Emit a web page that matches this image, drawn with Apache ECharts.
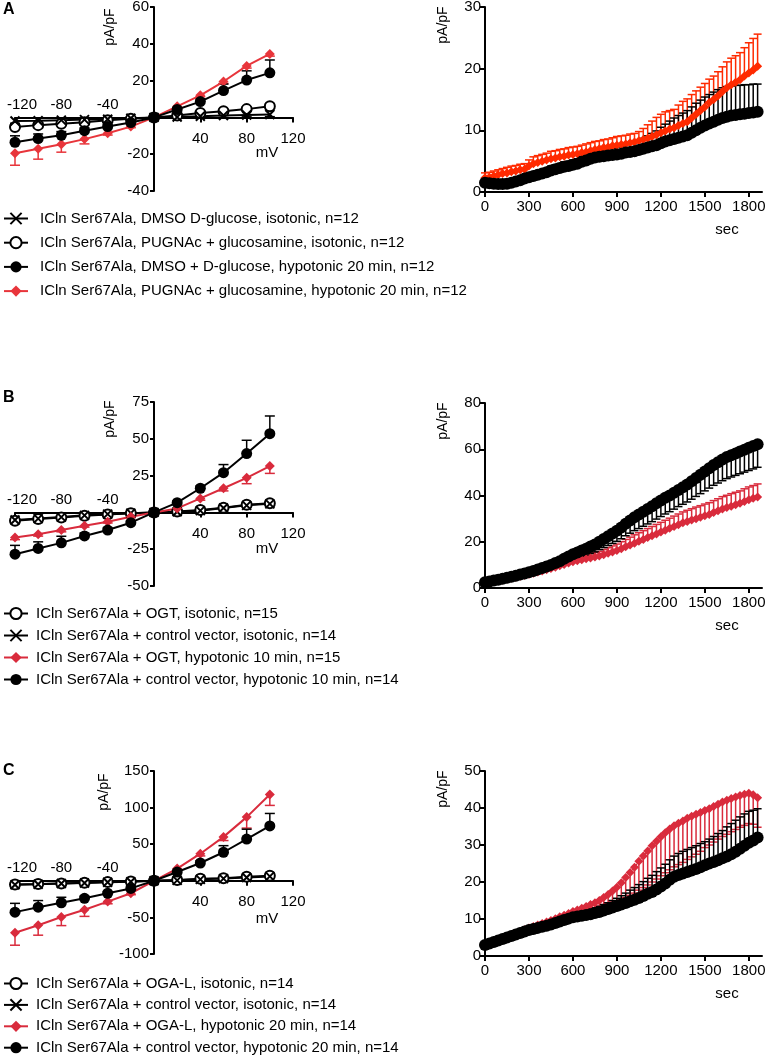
<!DOCTYPE html>
<html><head><meta charset="utf-8">
<script src="https://cdn.jsdelivr.net/npm/echarts@6/dist/echarts.min.js"></script>
<style>html,body{margin:0;padding:0;background:#fff}#c{width:770px;height:1055px}</style>
</head><body><div id="c"></div>
<script>
const FONT = "'Liberation Sans', Arial, Helvetica, sans-serif";

// ---------- shared axes / categories ----------
const voltages = [-120,-100,-80,-60,-40,-20,0,20,40,60,80,100];
const ivTickValues = [-120,-80,-40,40,80,120];
const ivLabelsNeg = [-120,-80,-40];
const ivLabelsPos = [40,80,120];
const timeTicks = [0,300,600,900,1200,1500,1800];
const seconds = [0,30,60,90,120,150,180,210,240,270,
  300,330,360,390,420,450,480,510,540,570,
  600,630,660,690,720,750,780,810,840,870,
  900,930,960,990,1020,1050,1080,1110,1140,1170,
  1200,1230,1260,1290,1320,1350,1380,1410,1440,1470,
  1500,1530,1560,1590,1620,1650,1680,1710,1740,1770,
  1800,1830,1860];

// ---------- Panel A (I-V) ----------
const aNames = [
  'ICln Ser67Ala, DMSO D-glucose, isotonic, n=12',
  'ICln Ser67Ala, PUGNAc + glucosamine, isotonic, n=12',
  'ICln Ser67Ala, DMSO + D-glucose, hypotonic 20 min, n=12',
  'ICln Ser67Ala, PUGNAc + glucosamine, hypotonic 20 min, n=12'
];
const aIsoDmso = [-2.0,-1.8,-1.5,-1.2,-1.0,-0.5,0,0.2,0.6,1.0,1.3,1.6];
const aIsoDmsoErr = [1.2,1.0,0.8,0.8,0.6,0.5,0.2,0.6,0.8,1.0,1.0,1.2];
const aIsoPug = [-5.2,-4.2,-3.5,-2.6,-1.6,-0.8,0,1.0,2.4,3.4,4.5,6.0];
const aIsoPugErr = [1.5,1.2,1.0,0.8,0.6,0.5,0.2,0.5,0.8,1.0,1.2,1.5];
const aHypoDmso = [-13.5,-11.5,-9.7,-7.2,-5.0,-2.8,0,4.3,8.6,14.6,20.3,24.2];
const aHypoDmsoErr = [3.5,2.5,2.0,1.5,1.0,0.6,0.3,1.0,1.5,3.5,5.0,7.0];
const aHypoPug = [-19.5,-17.0,-14.6,-11.8,-8.6,-5.0,0,6.0,12.0,19.5,28.0,34.5];
const aHypoPugErr = [6.5,5.7,4.3,2.6,1.0,0.6,0.3,0.5,0.8,1.0,1.2,1.2];

// ---------- Panel A (time course) ----------
const aTimeDmso = [1.5,1.4,1.35,1.3,1.3,1.35,1.5,1.7,1.9,2.2,
  2.4,2.6,2.8,3.0,3.2,3.5,3.7,3.9,4.1,4.2,
  4.4,4.6,4.9,5.1,5.4,5.6,5.7,5.8,5.9,6.0,
  6.1,6.2,6.4,6.5,6.6,6.8,7.0,7.2,7.4,7.6,
  7.9,8.2,8.4,8.6,8.8,9.0,9.2,9.6,10.0,10.4,
  10.8,11.1,11.4,11.7,12.0,12.2,12.4,12.5,12.6,12.7,
  12.8,12.9,13.0];
const aTimeDmsoErr = [0.4,0.4,0.4,0.4,0.4,0.4,0.5,0.5,0.5,0.5,
  0.5,0.6,0.6,0.6,0.6,0.7,0.7,0.7,0.8,0.8,
  0.8,0.8,0.9,0.9,0.9,1.0,1.0,1.0,1.1,1.1,
  1.2,1.2,1.3,1.4,1.5,1.6,1.7,1.9,2.1,2.3,
  2.6,2.8,3.1,3.4,3.6,3.8,4.0,4.2,4.4,4.5,
  4.6,4.7,4.8,4.9,4.9,4.9,4.8,4.8,4.7,4.7,
  4.6,4.6,4.5];
const aTimePug = [2.3,2.4,2.6,2.8,3.0,3.1,3.3,3.4,3.6,3.7,
  4.2,4.6,4.8,5.0,5.2,5.4,5.5,5.7,5.8,6.0,
  6.1,6.2,6.4,6.5,6.7,6.9,7.0,7.2,7.3,7.5,
  7.6,7.7,7.8,8.0,8.1,8.3,8.5,8.7,9.0,9.3,
  9.6,9.9,10.2,10.4,10.8,11.1,11.4,12.0,12.6,13.2,
  13.8,14.5,15.0,15.6,16.3,16.9,17.4,17.8,18.2,18.8,
  19.3,19.8,20.4];
const aTimePugErr = [0.8,0.8,0.8,0.8,0.8,0.9,0.9,0.9,0.9,0.9,
  1.0,1.1,1.1,1.1,1.1,1.2,1.2,1.2,1.2,1.2,
  1.2,1.2,1.2,1.3,1.3,1.3,1.3,1.3,1.3,1.3,
  1.4,1.4,1.4,1.4,1.4,1.5,1.8,2.2,2.5,2.8,
  3.0,3.1,3.0,3.0,3.3,3.6,3.7,3.8,3.8,3.8,
  3.8,3.8,3.8,3.9,4.0,4.2,4.3,4.3,4.4,4.6,
  4.9,5.1,5.2];

// ---------- Panel B (I-V) ----------
const bNames = [
  'ICln Ser67Ala + OGT, isotonic, n=15',
  'ICln Ser67Ala + control vector, isotonic, n=14',
  'ICln Ser67Ala + OGT, hypotonic 10 min, n=15',
  'ICln Ser67Ala + control vector, hypotonic 10 min, n=14'
];
const bIsoOgt = [-5.7,-4.5,-3.4,-2.2,-1.4,-0.6,0,0.6,1.6,3.2,5.2,6.2];
const bIsoOgtErr = [1.0,0.8,0.8,0.6,0.5,0.4,0.2,0.4,0.6,0.8,1.0,1.2];
const bIsoCtrl = [-5.2,-4.2,-3.2,-2.0,-1.2,-0.5,0,0.4,1.2,3.0,4.8,5.8];
const bIsoCtrlErr = [1.0,0.8,0.8,0.6,0.5,0.4,0.2,0.4,0.6,0.8,1.0,1.2];
const bHypoOgt = [-17.0,-14.8,-12.0,-9.0,-6.4,-3.0,0,2.7,9.5,16.4,23.5,31.5];
const bHypoOgtErr = [1.5,1.3,1.2,1.0,0.8,0.6,0.3,0.8,1.2,1.8,4.0,5.0];
const bHypoCtrl = [-28.4,-24.5,-20.7,-16.0,-12.0,-7.0,0,6.6,16.4,27.0,40.0,53.5];
const bHypoCtrlErr = [6.0,4.5,4.5,2.0,1.5,1.0,0.3,1.0,1.5,5.5,9.0,12.0];

// ---------- Panel B (time course) ----------
const bTimeCtrl = [2.5,2.8,3.2,3.6,4.0,4.4,4.9,5.3,5.8,6.3,
  6.8,7.4,8.0,8.6,9.3,10.0,10.8,11.6,12.6,13.6,
  14.6,15.4,16.2,17.0,17.9,18.8,20.0,21.2,22.4,23.6,
  24.8,26.2,27.8,29.2,30.6,31.8,33.0,34.2,35.4,36.6,
  37.8,39.0,40.0,41.2,42.4,43.6,44.8,46.2,47.6,49.0,
  50.4,51.8,53.2,54.4,55.6,56.6,57.4,58.2,59.0,59.8,
  60.6,61.4,62.2];
const bTimeCtrlErr = [0.5,0.5,0.6,0.6,0.7,0.7,0.8,0.8,0.9,0.9,
  1.0,1.1,1.2,1.3,1.4,1.5,1.6,1.7,1.8,2.0,
  2.2,2.4,2.6,2.8,3.0,3.2,3.4,3.7,4.0,4.3,
  4.6,4.9,5.2,5.5,5.8,6.1,6.3,6.5,6.7,6.8,
  6.9,7.0,7.0,7.1,7.2,7.4,7.6,7.8,8.0,8.2,
  8.4,8.6,8.8,9.0,9.2,9.3,9.4,9.5,9.6,9.7,
  9.8,9.9,10.0];
const bTimeOgt = [2.2,2.5,2.8,3.2,3.5,3.9,4.3,4.7,5.1,5.5,
  5.9,6.4,6.9,7.4,7.9,8.4,9.0,9.6,10.2,10.8,
  11.4,11.8,12.2,12.6,13.0,13.4,13.8,14.4,15.0,15.6,
  16.2,17.0,17.8,18.6,19.4,20.2,21.0,21.8,22.6,23.4,
  24.2,25.0,25.8,26.6,27.4,28.2,28.8,29.4,30.0,30.6,
  31.2,31.8,32.6,33.4,34.2,34.8,35.4,36.0,36.6,37.4,
  38.2,38.8,39.4];
const bTimeOgtErr = [0.4,0.4,0.5,0.5,0.5,0.6,0.6,0.6,0.7,0.7,
  0.8,0.8,0.9,0.9,1.0,1.0,1.1,1.2,1.2,1.3,
  1.4,1.5,1.6,1.7,1.8,1.9,2.0,2.2,2.4,2.6,
  2.8,3.0,3.2,3.4,3.6,3.7,3.8,3.9,4.0,4.1,
  4.2,4.3,4.4,4.5,4.6,4.7,4.8,4.9,5.0,5.0,
  5.1,5.1,5.2,5.2,5.3,5.3,5.4,5.4,5.4,5.5,
  5.5,5.5,5.6];

// ---------- Panel C (I-V) ----------
const cNames = [
  'ICln Ser67Ala + OGA-L, isotonic, n=14',
  'ICln Ser67Ala + control vector, isotonic, n=14',
  'ICln Ser67Ala + OGA-L, hypotonic 20 min, n=14',
  'ICln Ser67Ala + control vector, hypotonic 20 min, n=14'
];
const cIsoOga = [-5.0,-4.5,-3.6,-2.7,-1.8,-1.0,0,1.0,2.7,3.6,5.4,7.0];
const cIsoOgaErr = [1.5,1.2,1.0,1.0,0.8,0.6,0.3,0.6,0.8,1.0,1.5,2.0];
const cIsoCtrl = [-5.5,-4.8,-3.8,-2.9,-2.0,-1.2,0,0.6,2.0,3.0,4.5,6.0];
const cIsoCtrlErr = [1.5,1.2,1.0,1.0,0.8,0.6,0.3,0.6,0.8,1.0,1.5,2.0];
const cHypoOga = [-71.0,-60.8,-49.5,-39.6,-28.4,-17.0,0,16.7,37.0,60.0,87.0,118.0];
const cHypoOgaErr = [17.0,13.5,11.7,9.0,3.0,2.0,1.0,2.0,3.0,5.0,15.0,15.0];
const cHypoCtrl = [-42.8,-36.0,-30.0,-23.9,-17.0,-10.4,0,12.0,24.3,39.0,57.0,75.0];
const cHypoCtrlErr = [12.0,9.0,7.5,3.0,2.0,1.5,1.0,2.0,3.0,9.0,13.5,17.0];

// ---------- Panel C (time course) ----------
const cTimeCtrl = [3.0,3.4,3.8,4.2,4.6,5.0,5.4,5.8,6.2,6.6,
  7.0,7.3,7.6,7.9,8.2,8.5,8.9,9.3,9.7,10.1,
  10.5,10.7,10.9,11.1,11.3,11.6,11.9,12.3,12.7,13.1,
  13.5,13.9,14.3,14.8,15.2,15.7,16.2,16.8,17.3,18.0,
  18.8,19.6,20.6,21.4,21.9,22.3,22.7,23.1,23.5,24.0,
  24.5,25.0,25.4,25.9,26.4,26.9,27.5,28.2,29.0,29.8,
  30.6,31.2,32.0];
const cTimeCtrlErr = [0.5,0.5,0.5,0.6,0.6,0.6,0.7,0.7,0.7,0.8,
  0.8,0.8,0.9,0.9,0.9,1.0,1.0,1.0,1.1,1.1,
  1.2,1.2,1.3,1.3,1.4,1.4,1.5,1.6,1.7,1.9,
  2.1,2.4,2.7,3.0,3.3,3.6,3.9,4.2,4.5,4.8,
  5.0,5.2,5.4,5.6,5.8,6.0,6.1,6.2,6.3,6.4,
  6.4,6.6,6.9,7.2,7.5,8.0,8.3,8.5,8.6,8.6,
  8.5,8.2,7.8];
const cTimeOga = [3.0,3.4,3.9,4.3,4.8,5.2,5.7,6.1,6.6,7.1,
  7.6,8.0,8.4,8.8,9.2,9.6,10.1,10.6,11.0,11.5,
  12.0,12.4,12.9,13.4,13.9,14.4,15.0,15.8,16.6,17.6,
  18.6,19.8,21.2,22.6,24.0,25.6,27.0,28.4,29.8,31.0,
  32.2,33.3,34.3,35.2,35.9,36.5,37.2,37.8,38.3,38.8,
  39.3,39.8,40.4,41.0,41.6,42.1,42.6,43.0,43.4,43.7,
  44.0,43.6,42.8];
const cTimeOgaErr = [0.4,0.4,0.4,0.5,0.5,0.5,0.5,0.6,0.6,0.6,
  0.6,0.7,0.7,0.7,0.8,0.8,0.8,0.9,0.9,0.9,
  1.0,1.0,1.1,1.1,1.2,1.3,1.5,1.9,2.4,3.0,
  3.8,4.6,5.4,6.2,7.0,7.8,8.5,9.2,9.8,10.2,
  10.5,10.8,11.0,11.1,11.2,11.2,11.1,11.0,10.8,10.5,
  10.0,9.8,9.6,9.4,9.3,9.2,9.0,8.8,8.6,8.4,
  8.2,8.0,8.0];

// ---------- styling ----------
const BLACK = '#000000';
const RED_A = '#e8353b';
const RED_AT = '#ff2a00';
const RED = '#d92b3c';
const SYM_X = 'path://M0,0L10,10M10,0L0,10';

const grids = [
  { left: 15, top: 7, width: 278, height: 184, outerBoundsMode: 'none' },
  { left: 485, top: 7, width: 277, height: 185, outerBoundsMode: 'none' },
  { left: 15, top: 402, width: 278, height: 184, outerBoundsMode: 'none' },
  { left: 485, top: 403, width: 277, height: 185, outerBoundsMode: 'none' },
  { left: 15, top: 771, width: 278, height: 183, outerBoundsMode: 'none' },
  { left: 485, top: 771, width: 277, height: 185, outerBoundsMode: 'none' }
];

const option = {
  animation: false,
  backgroundColor: '#ffffff',
  textStyle: { fontFamily: FONT },
  title: [
    { text: 'A', left: 3, top: 2, padding: 0, textStyle: { fontSize: 16, fontWeight: 'bold', color: BLACK, fontFamily: FONT } },
    { text: 'B', left: 3, top: 390, padding: 0, textStyle: { fontSize: 16, fontWeight: 'bold', color: BLACK, fontFamily: FONT } },
    { text: 'C', left: 3, top: 763, padding: 0, textStyle: { fontSize: 16, fontWeight: 'bold', color: BLACK, fontFamily: FONT } }
  ],
  grid: grids,
  xAxis: [], yAxis: [], series: [], legend: [],
  graphic: { elements: [] }
};

const axisLineStyle = { color: BLACK, width: 2 };
const labelStyle = { color: BLACK, fontSize: 15, fontFamily: FONT };

function errSeries(xi, yi, xs, ys, es, dir, color, capW) {
  return {
    type: 'custom', name: 'err', xAxisIndex: xi, yAxisIndex: yi, silent: true,
    data: xs.map((x, i) => [x, ys[i], es[i]]),
    encode: { x: 0, y: 1 },
    renderItem: function (params, api) {
      const x = api.value(0), y = api.value(1), e = api.value(2);
      const p0 = api.coord([x, y]);
      const p1 = api.coord([x, y + dir * e]);
      return { type: 'group', children: [
        { type: 'line', shape: { x1: p0[0], y1: p0[1], x2: p1[0], y2: p1[1] }, style: { stroke: color, lineWidth: 1.5 } },
        { type: 'line', shape: { x1: p1[0] - capW / 2, y1: p1[1], x2: p1[0] + capW / 2, y2: p1[1] }, style: { stroke: color, lineWidth: 1.5 } }
      ] };
    }
  };
}

function lineSeries(name, xi, yi, xs, ys, kind, color, size, lw) {
  const s = {
    type: 'line', name: name, xAxisIndex: xi, yAxisIndex: yi,
    data: xs.map((x, i) => [x, ys[i]]),
    lineStyle: { color: color, width: lw },
    showSymbol: true, showAllSymbol: true, silent: true
  };
  if (kind === 'x') { s.symbol = SYM_X; s.symbolSize = size; s.itemStyle = { color: color, borderColor: color, borderWidth: 2 }; }
  if (kind === 'open') { s.symbol = 'emptyCircle'; s.symbolSize = size; s.itemStyle = { color: color, borderColor: color, borderWidth: 2 }; }
  if (kind === 'dot') { s.symbol = 'circle'; s.symbolSize = size; s.itemStyle = { color: color }; }
  if (kind === 'diamond') { s.symbol = 'diamond'; s.symbolSize = size; s.itemStyle = { color: color }; }
  return s;
}

// I-V panel: axes cross at (0,0); axes are placed there with offsets from the grid edges
function addIV(gi, ymin, ymax, yint, defs) {
  const g = grids[gi];
  const zeroFromTop = g.height * ymax / (ymax - ymin);
  const xi = option.xAxis.length;
  const yi = option.yAxis.length;
  option.yAxis.push({
    type: 'value', gridIndex: gi, min: ymin, max: ymax, interval: yint, position: 'left',
    offset: -g.width / 2,
    axisLine: { show: true, onZero: false, lineStyle: axisLineStyle },
    axisTick: { show: true, length: 4, lineStyle: axisLineStyle },
    axisLabel: Object.assign({ margin: 5, formatter: v => (v === 0 ? '' : String(v)) }, labelStyle),
    splitLine: { show: false }
  });
  option.xAxis.push({
    type: 'value', gridIndex: gi, min: -120, max: 120, position: 'bottom',
    offset: -(g.height - zeroFromTop),
    axisLine: { onZero: false, lineStyle: axisLineStyle },
    axisTick: { show: true, customValues: ivTickValues, length: 5, lineStyle: axisLineStyle },
    axisLabel: Object.assign({ customValues: ivLabelsPos, margin: 14, formatter: v => String(v) }, labelStyle),
    splitLine: { show: false }
  });
  option.xAxis.push({
    type: 'value', gridIndex: gi, min: -120, max: 120, position: 'top',
    offset: -zeroFromTop,
    axisLine: { show: false, onZero: false },
    axisTick: { show: false },
    axisLabel: Object.assign({
      customValues: ivLabelsNeg, margin: 5,
      formatter: v => (v === -120 ? '{edge|' + v + '}' : String(v)),
      rich: { edge: { padding: [0, 0, 0, 14], fontSize: 15, color: BLACK, fontFamily: FONT } }
    }, labelStyle),
    splitLine: { show: false }
  });
  defs.forEach(d => {
    option.series.push(errSeries(xi, yi, voltages, d.ys, d.err, d.dir, d.color, 10));
  });
  defs.forEach(d => {
    const size = d.kind === 'dot' ? 11 : (d.kind === 'open' ? 10 : (d.kind === 'x' ? 9 : 10));
    option.series.push(lineSeries(d.name, xi, yi, voltages, d.ys, d.kind, d.color, size, 2));
  });
}

function addTime(gi, ymax, yint, defs) {
  const xi = option.xAxis.length;
  const yi = option.yAxis.length;
  option.xAxis.push({
    type: 'value', gridIndex: gi, min: 0, max: 1890,
    axisLine: { onZero: false, lineStyle: axisLineStyle },
    axisTick: { show: true, customValues: timeTicks, length: 5, lineStyle: axisLineStyle },
    axisLabel: Object.assign({ customValues: timeTicks, margin: 7, formatter: v => String(v) }, labelStyle),
    splitLine: { show: false }
  });
  option.yAxis.push({
    type: 'value', gridIndex: gi, min: 0, max: ymax, interval: yint,
    axisLine: { show: true, onZero: false, lineStyle: axisLineStyle },
    axisTick: { show: true, length: 5, lineStyle: axisLineStyle },
    axisLabel: Object.assign({ margin: 4, formatter: v => String(v) }, labelStyle),
    splitLine: { show: false }
  });
  defs.forEach(d => {
    option.series.push(errSeries(xi, yi, seconds, d.ys, d.err, d.dir, d.color, 8));
    option.series.push(lineSeries(d.name, xi, yi, seconds, d.ys, d.kind, d.color, d.kind === 'dot' ? 12 : 9, 1));
  });
}

// Panel A
addIV(0, -40, 60, 20, [
  { name: aNames[1], ys: aIsoPug, err: aIsoPugErr, dir: 1, kind: 'open', color: BLACK },
  { name: aNames[0], ys: aIsoDmso, err: aIsoDmsoErr, dir: -1, kind: 'x', color: BLACK },
  { name: aNames[3], ys: aHypoPug, err: aHypoPugErr, dir: -1, kind: 'diamond', color: RED_A },
  { name: aNames[2], ys: aHypoDmso, err: aHypoDmsoErr, dir: 1, kind: 'dot', color: BLACK }
]);
addTime(1, 30, 10, [
  { name: 'A time: PUGNAc + glucosamine', ys: aTimePug, err: aTimePugErr, dir: 1, kind: 'diamond', color: RED_AT },
  { name: 'A time: DMSO + D-glucose', ys: aTimeDmso, err: aTimeDmsoErr, dir: 1, kind: 'dot', color: BLACK }
]);
// Panel B
addIV(2, -50, 75, 25, [
  { name: bNames[0], ys: bIsoOgt, err: bIsoOgtErr, dir: 1, kind: 'open', color: BLACK },
  { name: bNames[1], ys: bIsoCtrl, err: bIsoCtrlErr, dir: -1, kind: 'x', color: BLACK },
  { name: bNames[2], ys: bHypoOgt, err: bHypoOgtErr, dir: -1, kind: 'diamond', color: RED },
  { name: bNames[3], ys: bHypoCtrl, err: bHypoCtrlErr, dir: 1, kind: 'dot', color: BLACK }
]);
addTime(3, 80, 20, [
  { name: 'B time: OGT', ys: bTimeOgt, err: bTimeOgtErr, dir: 1, kind: 'diamond', color: RED },
  { name: 'B time: control vector', ys: bTimeCtrl, err: bTimeCtrlErr, dir: -1, kind: 'dot', color: BLACK }
]);
// Panel C
addIV(4, -100, 150, 50, [
  { name: cNames[0], ys: cIsoOga, err: cIsoOgaErr, dir: 1, kind: 'open', color: BLACK },
  { name: cNames[1], ys: cIsoCtrl, err: cIsoCtrlErr, dir: -1, kind: 'x', color: BLACK },
  { name: cNames[2], ys: cHypoOga, err: cHypoOgaErr, dir: -1, kind: 'diamond', color: RED },
  { name: cNames[3], ys: cHypoCtrl, err: cHypoCtrlErr, dir: 1, kind: 'dot', color: BLACK }
]);
addTime(5, 50, 10, [
  { name: 'C time: OGA-L', ys: cTimeOga, err: cTimeOgaErr, dir: -1, kind: 'diamond', color: RED },
  { name: 'C time: control vector', ys: cTimeCtrl, err: cTimeCtrlErr, dir: 1, kind: 'dot', color: BLACK }
]);

function legendCfg(names, top, gap, textPad) {
  return {
    data: names, orient: 'vertical', left: 3, top: top, padding: 0, height: 120,
    itemWidth: 24, itemHeight: 14, itemGap: gap, selectedMode: false,
    textStyle: { fontSize: 15, color: BLACK, fontFamily: FONT, lineHeight: 14, padding: [0, 0, 0, textPad] }
  };
}
option.legend = [
  legendCfg(aNames, 211, 9.2, 7),
  legendCfg(bNames, 606, 7.0, 3),
  legendCfg(cNames, 976, 6.4, 3)
];

function txt(t, x, y, size, rot) {
  return { type: 'text', x: x, y: y, rotation: rot || 0, silent: true,
    style: { text: t, fill: BLACK, font: size + 'px ' + FONT, align: 'center', verticalAlign: 'middle' } };
}
option.graphic.elements = [
  txt('pA/pF', 110, 27, 14, Math.PI / 2),
  txt('pA/pF', 110, 419, 14, Math.PI / 2),
  txt('pA/pF', 104, 792, 14, Math.PI / 2),
  txt('pA/pF', 443, 25, 14, Math.PI / 2),
  txt('pA/pF', 443, 421, 14, Math.PI / 2),
  txt('pA/pF', 443, 789, 14, Math.PI / 2),
  txt('mV', 267, 153, 15),
  txt('mV', 267, 549, 15),
  txt('mV', 267, 919, 15),
  txt('sec', 727, 230, 15),
  txt('sec', 727, 626, 15),
  txt('sec', 727, 994, 15)
];

const chart = echarts.init(document.getElementById('c'), null, { renderer: 'canvas' });
chart.setOption(option);
</script>
</body></html>
